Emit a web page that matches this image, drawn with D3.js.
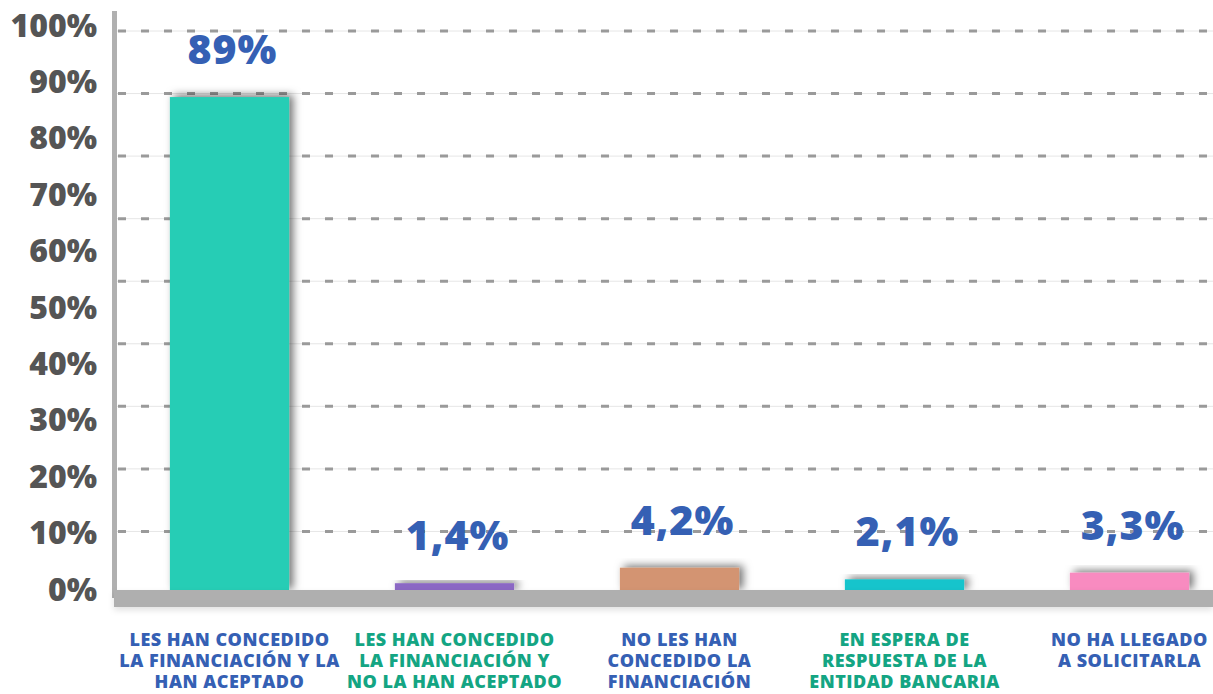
<!DOCTYPE html>
<html>
<head>
<meta charset="utf-8">
<script src="https://cdn.jsdelivr.net/npm/d3@7"></script>
<style>
  html, body { margin: 0; padding: 0; background: #fff; }
  svg { display: block; }
</style>
</head>
<body>
<svg class="chart"></svg>
<script>
// data
const categories = [
  "LES HAN CONCEDIDO|LA FINANCIACIÓN Y LA|HAN ACEPTADO",
  "LES HAN CONCEDIDO|LA FINANCIACIÓN Y|NO LA HAN ACEPTADO",
  "NO LES HAN|CONCEDIDO LA|FINANCIACIÓN",
  "EN ESPERA DE|RESPUESTA DE LA|ENTIDAD BANCARIA",
  "NO HA LLEGADO|A SOLICITARLA"
]
const values = [89, 1.4, 4.2, 2.1, 3.3]
const valueLabels = ["89%", "1,4%", "4,2%", "2,1%", "3,3%"]
const barColors = ["#27cdb5", "#8b67c4", "#d39472", "#13c4cc", "#f88bc0"]
const labelColors = ["#3560b4", "#14a583", "#3560b4", "#14a583", "#3560b4"]
const tickValues = [0, 10, 20, 30, 40, 50, 60, 70, 80, 90, 100]
const tickLabels = ["0%", "10%", "20%", "30%", "40%", "50%", "60%", "70%", "80%", "90%", "100%"]
const gridCount = 9

const width = 1213, height = 694
const font = "'Open Sans', Lato, sans-serif"

const svg = d3.select(".chart")
  .attr("width", width)
  .attr("height", height)

// soft shadow for the bars
const defs = svg.append("defs")
const f = defs.append("filter").attr("id", "shadow")
  .attr("x", "-20%").attr("y", "-40%").attr("width", "150%").attr("height", "180%")
f.append("feDropShadow")
  .attr("dx", 4).attr("dy", -2).attr("stdDeviation", 4)
  .attr("flood-color", "#000").attr("flood-opacity", 0.55)
const f2 = defs.append("filter").attr("id", "baseShadow")
  .attr("x", "-5%").attr("y", "-50%").attr("width", "110%").attr("height", "250%")
f2.append("feDropShadow")
  .attr("dx", 0).attr("dy", 3).attr("stdDeviation", 3)
  .attr("flood-color", "#000").attr("flood-opacity", 0.12)

const x = d3.scaleBand()
  .domain(categories)
  .range([117, 1242])
  .paddingInner(0.47)
  .paddingOuter(0.235)

const y = d3.scaleLinear()
  .domain([0, 100])
  .range([591, 36])

// tick labels sit on their own even spacing
const tickY = d3.scaleLinear()
  .domain([0, 100])
  .range([589, 25])

// gridlines (9 evenly spaced, not tied to the tick labels)
const gridY = d3.scaleLinear()
  .domain([0, gridCount])
  .range([594, 31])
const gridVals = d3.range(1, gridCount + 1)
const grid = svg.append("g")
grid.selectAll("line.solid")
  .data(gridVals)
  .enter().append("line")
    .attr("class", "solid")
    .attr("x1", 117).attr("x2", width)
    .attr("y1", d => gridY(d)).attr("y2", d => gridY(d))
    .attr("stroke", "#e6e6e6")
    .attr("stroke-width", 1)
grid.selectAll("line.dash")
  .data(gridVals)
  .enter().append("line")
    .attr("class", "dash")
    .attr("x1", 118).attr("x2", width)
    .attr("y1", d => gridY(d)).attr("y2", d => gridY(d))
    .attr("stroke", "#9a9a9a")
    .attr("stroke-width", 3)
    .attr("stroke-dasharray", "8,15")

// bars
svg.append("g")
  .selectAll("rect")
  .data(values)
  .enter().append("rect")
    .attr("x", (d, i) => x(categories[i]))
    .attr("y", d => y(d))
    .attr("width", x.bandwidth())
    .attr("height", d => y(0) - y(d))
    .attr("fill", (d, i) => barColors[i])
    .attr("filter", "url(#shadow)")

// axis lines (L shape)
svg.append("rect")
  .attr("x", 112).attr("y", 11)
  .attr("width", 5).attr("height", 587)
  .attr("fill", "#b0b0b0")
svg.append("rect")
  .attr("x", 114).attr("y", y(0) - 1)
  .attr("width", width - 114).attr("height", 17)
  .attr("fill", "#afafaf")
  .attr("filter", "url(#baseShadow)")

// tick labels
svg.append("g")
  .attr("text-anchor", "end")
  .attr("font-family", font)
  .attr("font-weight", 800)
  .attr("font-size", 32)
  .attr("fill", "#555555")
  .selectAll("text")
  .data(tickValues)
  .enter().append("text")
    .attr("x", 97)
    .attr("y", d => tickY(d))
    .attr("dy", "0.36em")
    .text((d, i) => tickLabels[i])

// value labels
svg.append("g")
  .attr("text-anchor", "middle")
  .attr("font-family", font)
  .attr("font-weight", 800)
  .attr("font-size", 41)
  .attr("letter-spacing", 1)
  .attr("fill", "#3560b4")
  .selectAll("text")
  .data(values)
  .enter().append("text")
    .attr("x", (d, i) => x(categories[i]) + x.bandwidth() / 2 + 3)
    .attr("y", d => y(d) - 33)
    .text((d, i) => valueLabels[i])

// category labels
const cat = svg.append("g")
  .attr("text-anchor", "middle")
  .attr("font-family", font)
  .attr("font-weight", 800)
  .attr("font-size", 18)
  .attr("letter-spacing", 0.5)
  .selectAll("text")
  .data(categories)
  .enter().append("text")
    .attr("fill", (d, i) => labelColors[i])
    .attr("transform", d => `translate(${x(d) + x.bandwidth() / 2},646)`)
cat.selectAll("tspan")
  .data(d => d.split("|"))
  .enter().append("tspan")
    .attr("x", 0)
    .attr("y", (d, i) => i * 21)
    .text(d => d)
</script>
</body>
</html>
